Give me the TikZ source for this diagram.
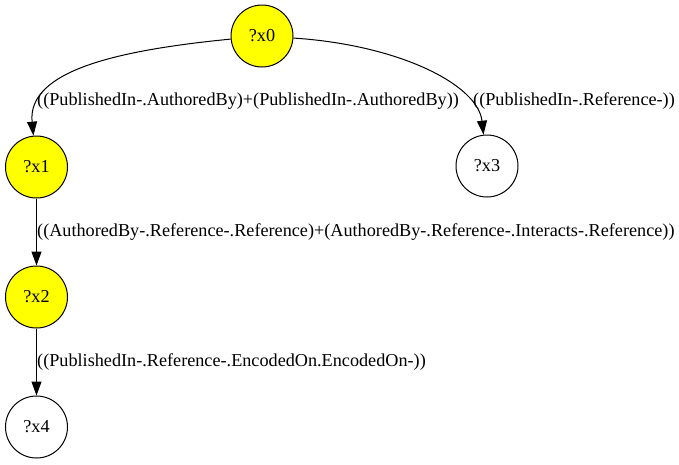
\documentclass[tikz,border=0pt]{standalone}
\usepackage{fontspec}
\setmainfont{Liberation Serif}
\usetikzlibrary{arrows.meta}
\definecolor{gvyellow}{RGB}{255,255,0}
\tikzset{
  vert/.style={circle, draw=black, line width=1pt, minimum size=62pt, inner sep=0pt, font=\fontsize{18.2}{20}\selectfont},
  hl/.style={vert, fill=gvyellow},
  plain/.style={vert, fill=white},
  elabel/.style={anchor=west, inner sep=0pt, font=\fontsize{18.2}{20}\selectfont},
  edge/.style={draw=black, line width=1pt, -{Triangle[length=14pt,width=10pt]}}
}
\begin{document}
\begin{tikzpicture}[x=1pt,y=-1pt]
\useasboundingbox (0,0) rectangle (679,464);
\node[hl] (x0) at (262,36) {?x0};
\node[hl] (x1) at (36.5,167) {?x1};
\node[plain] (x3) at (487,166) {?x3};
\node[hl] (x2) at (36.5,297) {?x2};
\node[plain] (x4) at (36.5,427) {?x4};
\draw[edge] (x0) .. controls (120,50) and (27,70) .. (x1);
\draw[edge] (x0) .. controls (400,45) and (478,85) .. (x3);
\draw[edge] (x1) -- (x2);
\draw[edge] (x2) -- (x4);
\node[elabel] (l1) at (37,101) {((PublishedIn-.AuthoredBy)+(PublishedIn-.AuthoredBy))};
\node[elabel] (l2) at (473,101) {((PublishedIn-.Reference-))};
\node[elabel] (l3) at (37,232) {((AuthoredBy-.Reference-.Reference)+(AuthoredBy-.Reference-.Interacts-.Reference))};
\node[elabel] (l4) at (37,362) {((PublishedIn-.Reference-.EncodedOn.EncodedOn-))};
\end{tikzpicture}
\end{document}
